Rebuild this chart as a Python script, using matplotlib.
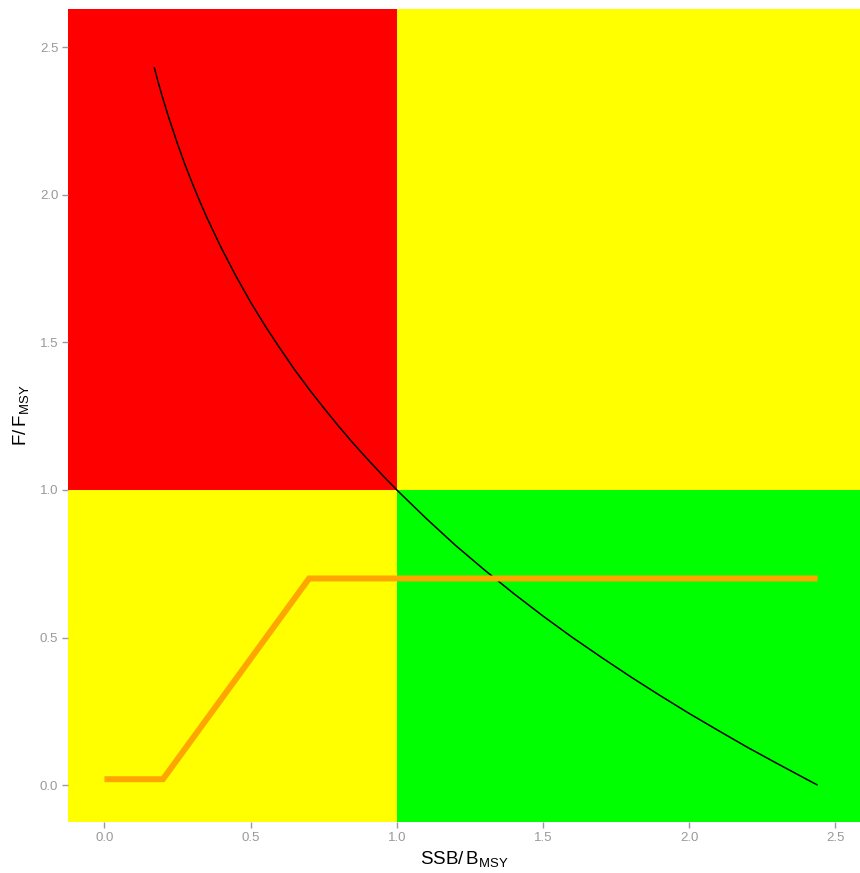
import matplotlib
matplotlib.use("Agg")
import matplotlib.pyplot as plt
from matplotlib.patches import Rectangle

plt.rcParams['font.family'] = ['Liberation Sans', 'DejaVu Sans']
plt.rcParams['mathtext.default'] = 'regular'

# reference points (relative to MSY)
b_ref = 1.0
f_ref = 1.0

# equilibrium curve F/Fmsy vs SSB/Bmsy
curve_x = [0.17, 0.18, 0.19, 0.20, 0.22, 0.25, 0.275, 0.30, 0.325, 0.35, 0.40,
           0.45, 0.50, 0.55, 0.60, 0.65, 0.70, 0.75, 0.80, 0.85, 0.90, 0.95,
           1.00, 1.10, 1.20, 1.30, 1.40, 1.50, 1.60, 1.70, 1.80, 1.90, 2.00,
           2.10, 2.20, 2.30, 2.40, 2.44]
curve_y = [2.432, 2.395, 2.359, 2.325, 2.261, 2.172, 2.103, 2.040, 1.980, 1.923, 1.819,
           1.724, 1.636, 1.555, 1.480, 1.408, 1.341, 1.278, 1.217, 1.159, 1.104, 1.051,
           1.000, 0.904, 0.813, 0.729, 0.649, 0.573, 0.501, 0.433, 0.367, 0.304, 0.243,
           0.185, 0.128, 0.074, 0.021, 0.000]

# harvest control rule
hcr_x = [0.0, 0.2, 0.7, 2.44]
hcr_y = [0.02, 0.02, 0.7, 0.7]

x_ticks = [0.0, 0.5, 1.0, 1.5, 2.0, 2.5]
y_ticks = [0.0, 0.5, 1.0, 1.5, 2.0, 2.5]

fig = plt.figure(figsize=(8.6, 8.73), dpi=100)
ax = fig.add_axes([0.079, 0.0584, 0.921, 0.9313])

xmin, xmax = -0.125, 2.585
ymin, ymax = -0.125, 2.629

# kobe quadrants
big = 10
ax.add_patch(Rectangle((-big, f_ref), big + b_ref, big, color='#FF0000', lw=0))
ax.add_patch(Rectangle((b_ref, f_ref), big, big, color='#FFFF00', lw=0))
ax.add_patch(Rectangle((-big, -big), big + b_ref, big + f_ref, color='#FFFF00', lw=0))
ax.add_patch(Rectangle((b_ref, -big), big, big + f_ref, color='#00FF00', lw=0))

ax.plot(curve_x, curve_y, color='black', lw=1.1, zorder=3, solid_capstyle='butt')
ax.plot(hcr_x, hcr_y, color='#FFA500', lw=4.3, zorder=4,
        solid_joinstyle='miter', solid_capstyle='butt')

ax.set_xlim(xmin, xmax)
ax.set_ylim(ymin, ymax)
ax.set_xticks(x_ticks)
ax.set_yticks(y_ticks)
ax.set_xticklabels([f"{v:.1f}" for v in x_ticks])
ax.set_yticklabels([f"{v:.1f}" for v in y_ticks])
ax.tick_params(colors='#999999', labelsize=9.5, length=4, width=1, pad=3)
for s in ax.spines.values():
    s.set_visible(False)

ax.set_xlabel(r'SSB/$\,$B$_{MSY}$', fontsize=13.5, color='black', labelpad=4)
ax.set_ylabel(r'F/$\,$F$_{MSY}$', fontsize=13.5, color='black', labelpad=6)

fig.savefig('out.png', dpi=100)
